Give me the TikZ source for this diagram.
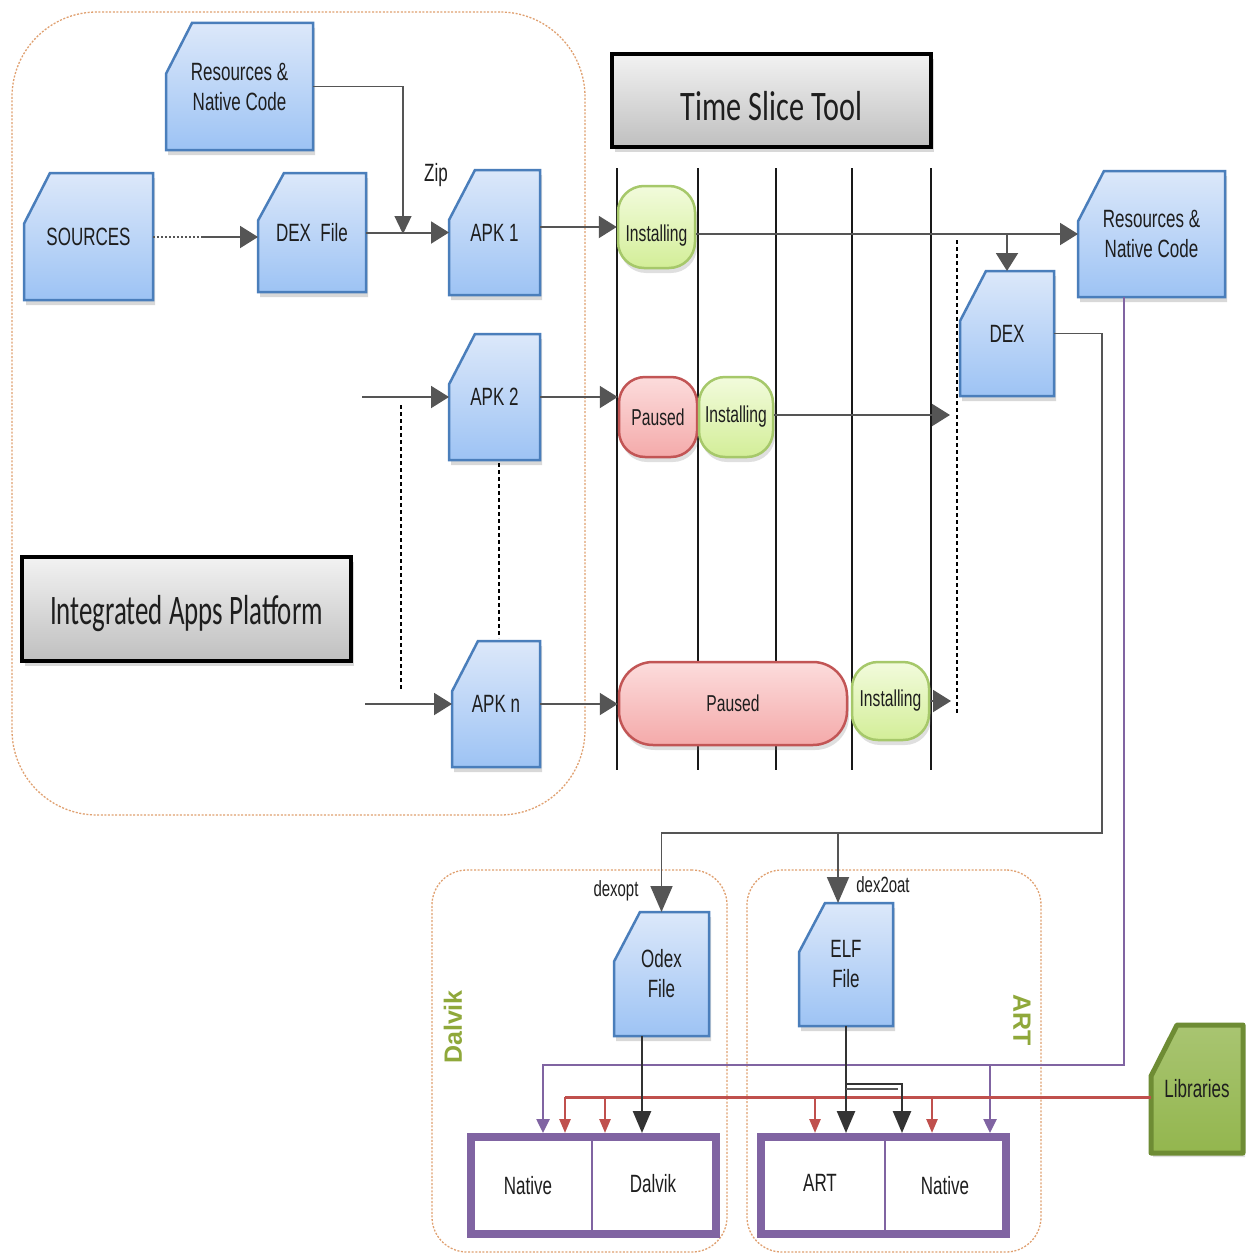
\documentclass[tikz,border=0pt]{standalone}
\usepackage{fontspec}
\setmainfont{Liberation Sans}
\newfontfamily\nar[FakeStretch=0.68]{Liberation Sans}
\newfontfamily\calA[FakeStretch=0.72]{Carlito}
\newfontfamily\calB[FakeStretch=0.64]{Carlito}
\usetikzlibrary{arrows.meta,calc,shadows}
\pgfdeclarelayer{bgA}
\pgfdeclarelayer{bgB}
\pgfsetlayers{bgA,bgB,main}
\definecolor{cardB}{HTML}{4A7EBB}
\definecolor{cardT}{HTML}{DCE8FA}
\definecolor{cardBot}{HTML}{9DC3F4}
\definecolor{arrG}{HTML}{555555}
\definecolor{purp}{HTML}{8064A2}
\definecolor{redl}{HTML}{C0504D}
\definecolor{orng}{HTML}{E0A070}
\definecolor{olive}{HTML}{8FA83A}
\definecolor{libF}{HTML}{93B64E}
\definecolor{libB}{HTML}{6E8C34}
\definecolor{txt}{HTML}{1E1E1E}
\definecolor{pgL}{HTML}{F2FBDC}
\definecolor{pgM}{HTML}{D3EE98}
\definecolor{pgB}{HTML}{A6C86A}
\definecolor{prL}{HTML}{FCDCDC}
\definecolor{prM}{HTML}{F4AAAA}
\definecolor{prB}{HTML}{C25555}

\newcommand\mycard[7]{%
  \node[cardtxt, minimum width={(#5-#3)*1pt}, minimum height={(#6-#4)*1pt}] (#2) at ({(#3+#5)/2},{(#4+#6)/2}) {#7};
  \begin{pgfonlayer}{bgB}
  \path[#1] (#2.south west) -- ($(#2.north west)+(0,{0.4*(#6-#4)})$) -- ($(#2.north west)+(26,0)$) -- (#2.north east) -- (#2.south east) -- cycle;
  \end{pgfonlayer}
}

\begin{document}
\begin{tikzpicture}[x=1pt,y=-1pt,
  cardtxt/.style={draw=none, inner sep=0pt, outer sep=0pt, align=center, text=txt, font=\nar\fontsize{25}{30}\selectfont},
  cardshape/.style={draw=cardB, line width=2.5pt, top color=cardT, bottom color=cardBot, line join=miter,
     drop shadow={shadow xshift=2pt, shadow yshift=-5pt, opacity=0.3}},
  libshape/.style={draw=libB, line width=5pt, top color=libF!80!white, bottom color=libF, line join=round,
     drop shadow={shadow xshift=2pt, shadow yshift=-4pt, opacity=0.25}},
  graybox/.style={draw=black, line width=3.5pt, top color=white!95!black, bottom color=black!25, inner sep=0pt,
     drop shadow={shadow xshift=3pt, shadow yshift=-5pt, opacity=0.3}, text=txt},
  pillG/.style={draw=pgB, line width=2.5pt, top color=pgL, bottom color=pgM, rounded corners=26pt, inner sep=0pt,
     drop shadow={shadow xshift=2pt, shadow yshift=-5pt, opacity=0.25}, text=txt, font=\nar\fontsize{23}{26}\selectfont},
  pillR/.style={draw=prB, line width=2.5pt, top color=prL, bottom color=prM, rounded corners=26pt, inner sep=0pt,
     drop shadow={shadow xshift=2pt, shadow yshift=-5pt, opacity=0.25}, text=txt, font=\nar\fontsize{23}{26}\selectfont},
  cont/.style={draw=orng, line width=1.3pt, dash pattern=on 2pt off 1.6pt, inner sep=0pt},
  vmbox/.style={draw=purp, line width=8pt, fill=white, inner sep=0pt},
  lbl/.style={text=txt, inner sep=1pt, font=\nar\fontsize{25}{28}\selectfont},
  slbl/.style={text=txt, inner sep=1pt, font=\nar\fontsize{22}{24}\selectfont},
  side/.style={text=olive, font=\bfseries\fontsize{25}{27}\selectfont},
  arr/.style={draw=arrG, line width=2pt, -{Triangle[length=18pt,width=22pt]}},
  tarr/.style={draw=arrG, line width=1.3pt, -{Triangle[length=18pt,width=17pt]}},
  garr/.style={draw=arrG, line width=1.8pt, -{Triangle[length=26pt,width=22pt]}},
  parr/.style={draw=purp, line width=2.5pt, -{Triangle[length=14pt,width=13pt]}},
  rarr/.style={draw=redl, line width=2.5pt, -{Triangle[length=14pt,width=11pt]}},
  karr/.style={draw=black!80, line width=2.5pt, -{Triangle[length=22pt,width=18pt]}},
  tline/.style={draw=black!90, line width=1.3pt},
  dline/.style={draw=black, line width=1.2pt, dash pattern=on 4pt off 3pt}
]
\begin{pgfonlayer}{bgA}
\fill[white] (0,0) rectangle (1247,1255);
\node[cont, minimum width=573pt, minimum height=803pt, rounded corners=85pt] (iapc) at (298.5,413.5) {};
\node[cont, minimum width=295pt, minimum height=382pt, rounded corners=35pt] (dalc) at (579.5,1061) {};
\node[cont, minimum width=294pt, minimum height=382pt, rounded corners=35pt] (artc) at (894,1061) {};
\foreach \x in {617,698,776,852,931} {\draw[tline] (\x,168) -- (\x,770);}
\draw[dline] (957,240) -- (957,715);
\end{pgfonlayer}
\useasboundingbox (0,0) rectangle (1247,1255);

% blue cards
\mycard{cardshape}{res1}{166}{23}{313}{150}{Resources \&\\Native Code}
\mycard{cardshape}{src}{24}{173}{153}{300}{SOURCES}
\mycard{cardshape}{dex}{258}{173}{366}{292}{DEX\ \ File}
\mycard{cardshape}{apk1}{449}{170}{540}{295}{APK 1}
\mycard{cardshape}{apk2}{449}{334}{540}{460}{APK 2}
\mycard{cardshape}{apkn}{452}{641}{540}{767}{APK n}
\mycard{cardshape}{res2}{1078}{171}{1225}{297}{Resources \&\\Native Code}
\mycard{cardshape}{dex2}{960}{271}{1054}{396}{DEX}
\mycard{cardshape}{odex}{614}{912}{709}{1036}{Odex\\File}
\mycard{cardshape}{elf}{799}{903}{893}{1026}{ELF\\File}
\mycard{libshape}{lib}{1151}{1025}{1243}{1153}{Libraries}

% title boxes
\node[graybox, minimum width=319pt, minimum height=93pt, font=\calA\fontsize{42}{46}\selectfont] (tst) at (771.5,100.5) {\raisebox{-20pt}[0pt][0pt]{Time Slice Tool}};
\node[graybox, minimum width=329pt, minimum height=104pt, font=\calB\fontsize{42}{46}\selectfont] (iap) at (186.5,609) {\raisebox{-15pt}[0pt][0pt]{Integrated Apps Platform}};

% pills
\node[pillG, minimum width=77pt, minimum height=82pt] (inst1) at (656.5,227) {\raisebox{-14pt}[0pt][0pt]{Installing}};
\node[pillR, minimum width=78pt, minimum height=80pt] (pause2) at (658,417) {Paused};
\node[pillG, minimum width=74pt, minimum height=80pt] (inst2) at (736,417) {Installing};
\node[pillR, minimum width=228pt, minimum height=83pt, rounded corners=34pt] (pausen) at (733,703.5) {Paused};
\node[pillG, minimum width=77pt, minimum height=78pt] (instn) at (890.5,701) {Installing};

% runtime boxes
\node[vmbox, minimum width=245pt, minimum height=97pt] (dvm) at (593.5,1185.5) {};
\node[vmbox, minimum width=245pt, minimum height=97pt] (avm) at (883.5,1185.5) {};
\draw[purp, line width=2pt] (592,1138) -- (592,1233);
\draw[purp, line width=2pt] (885,1138) -- (885,1233);
\node[lbl] (dnat) at (528,1186) {Native};
\node[lbl] (ddal) at (653,1184) {Dalvik};
\node[lbl] (aart) at (820,1183) {ART};
\node[lbl] (anat) at (945,1186) {Native};

% side labels
\node[side, rotate=90] (dlab) at (453,1027) {Dalvik};
\node[side, rotate=-90] (alab) at (1022,1020) {ART};

% labels
\node[lbl] (zip) at (436,175) {Zip};
\node[slbl] (dexopt) at (616,891) {dexopt};
\node[slbl] (dex2oat) at (883,885) {dex2oat};

% connectors top
\coordinate (srcmid) at (202,237);
\draw[arrG, line width=2pt, dotted] (src.east |- srcmid) -- (srcmid);
\draw[arr] (srcmid) -- (dex.west |- srcmid);
\draw[arr] (dex.east) -- (apk1.west);
\coordinate (zipj) at (403,234);
\draw[tarr] (res1.east) -| (zipj);
\draw[arr] (inst1.west -| apk1.east) -- (inst1.west);
\draw[arr] (inst1.east |- res2.west) -- (res2.west);
\draw[arr] (dex2.north |- res2.west) -- (dex2.north);

\coordinate (in2) at (362,397);
\draw[arr] (in2) -- (apk2.west);
\draw[arr] (apk2.east) -- (apk2.east -| pause2.west);
\coordinate (out2) at (950,415);
\draw[arr] (inst2.east |- out2) -- (out2);

\coordinate (inn) at (365,704);
\draw[arr] (inn) -- (apkn.west);
\draw[arr] (apkn.east) -- (apkn.east -| pausen.west);
\coordinate (outn) at (951,701);
\draw[arr] (instn.east |- outn) -- (outn);

\draw[dline] (401,405) -- (401,690);
\draw[dline] (499,463) -- (499,638);

% DEX to odex / elf
\coordinate (busR) at (1102,833);
\draw[garr] (dex2.east) -| (busR) -| (odex.north);
\coordinate (elfin) at (838,903);
\draw[garr] (elfin |- busR) -- (elfin);

% purple
\coordinate (pbus) at (1124,1065);
\coordinate (pa) at (543,1065);
\coordinate (pb) at (990,1065);
\draw[parr] (res2.south -| pbus) -- (pbus) -- (pa) -- (pa |- dvm.north);
\draw[parr] (pb) -- (pb |- avm.north);

% red
\coordinate (rbus) at (565,1097);
\draw[redl, line width=3pt] (lib.west |- rbus) -- (rbus);
\foreach \x/\n in {565/dvm,605/dvm,815/avm,932/avm} {
  \coordinate (rq) at (\x,1097);
  \draw[rarr] (rq) -- (rq |- \n.north);
}

% black
\coordinate (ok) at (642,1036);
\draw[karr] (ok) -- (ok |- dvm.north);
\draw[karr] (elf.south) -- (elf.south |- avm.north);
\coordinate (ej) at (846,1084);
\coordinate (ej2) at (902,1084);
\draw[arrG, line width=2pt] (846,1089) -- (898,1089);
\draw[karr] (ej) -- (ej2) -- (ej2 |- avm.north);
\end{tikzpicture}
\end{document}
